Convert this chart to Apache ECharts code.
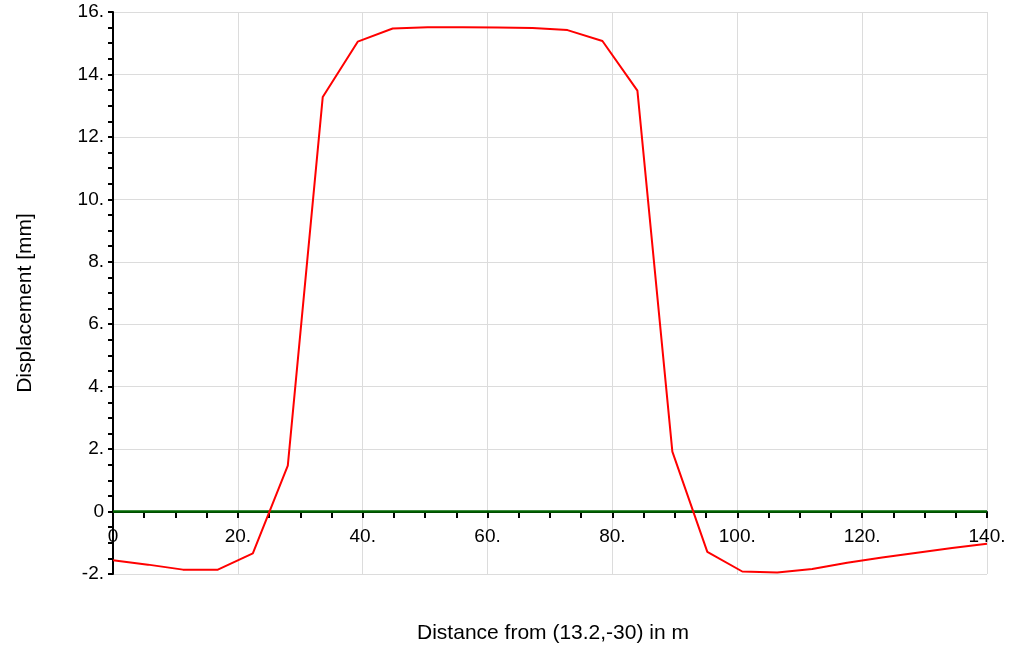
<!DOCTYPE html>
<html>
<head>
<meta charset="utf-8">
<script src="https://cdn.jsdelivr.net/npm/echarts@6/dist/echarts.min.js"></script>
<style>
html,body{margin:0;padding:0;background:#fff;}
#chart{width:1012px;height:647px;}
</style>
</head>
<body>
<div id="chart"></div>
<script>
var distance = [0,5.6,11.2,16.8,22.4,28,33.6,39.2,44.8,50.4,56,61.6,67.2,72.8,78.4,84,89.6,95.2,100.8,106.4,112,117.6,123.2,128.8,134.4,140];
var displacement = [-1.56,-1.70,-1.86,-1.86,-1.34,1.47,13.28,15.05,15.47,15.51,15.51,15.50,15.49,15.42,15.07,13.48,1.92,-1.29,-1.92,-1.95,-1.84,-1.64,-1.47,-1.32,-1.17,-1.03];
var baselineX = [0,140];
var baselineY = [0,0];
var xTitle = 'Distance from (13.2,-30) in m';
var yTitle = 'Displacement [mm]';

var FONT = '"Liberation Sans", Arial, Helvetica, sans-serif';
function fmt(v){ return v === 0 ? '0' : (v + '.'); }

var chart = echarts.init(document.getElementById('chart'), null, {renderer:'canvas'});
chart.setOption({
  animation:false,
  backgroundColor:'#fff',
  grid:{left:113,right:25,top:12,bottom:73,containLabel:false},
  xAxis:{
    type:'value',min:0,max:140,interval:20,position:'bottom',offset:-62,
    axisLine:{show:true,onZero:false,lineStyle:{color:'#000',width:2}},
    axisTick:{show:true,length:6,lineStyle:{color:'#000',width:2}},
    minorTick:{show:true,splitNumber:4,length:6,lineStyle:{color:'#000',width:2}},
    splitLine:{show:true,lineStyle:{color:'#dcdcdc',width:1}},
    axisLabel:{formatter:fmt,color:'#000',fontSize:19,fontFamily:FONT,margin:15,showMaxLabel:true,showMinLabel:true,hideOverlap:false}
  },
  yAxis:{
    type:'value',min:-2,max:16,interval:2,
    axisLine:{show:true,onZero:false,lineStyle:{color:'#000',width:2}},
    axisTick:{show:true,length:5,lineStyle:{color:'#000',width:2}},
    minorTick:{show:true,splitNumber:4,length:5,lineStyle:{color:'#000',width:2}},
    splitLine:{show:true,lineStyle:{color:'#dcdcdc',width:1}},
    axisLabel:{formatter:fmt,color:'#000',fontSize:19,fontFamily:FONT,margin:9,padding:[8,0,0,0],hideOverlap:false}
  },
  graphic:[
    {type:'text',position:[553,633],style:{text:xTitle,fontSize:21,fontFamily:FONT,fill:'#000',textAlign:'center',textVerticalAlign:'middle'}},
    {type:'text',position:[25,303],rotation:Math.PI/2,style:{text:yTitle,fontSize:21,fontFamily:FONT,fill:'#000',textAlign:'center',textVerticalAlign:'middle'}}
  ],
  series:[
    {type:'line',data:baselineX.map(function(x,i){return [x,baselineY[i]];}),symbol:'none',lineStyle:{color:'#006400',width:2.5},z:3},
    {type:'line',data:distance.map(function(x,i){return [x,displacement[i]];}),symbol:'none',lineStyle:{color:'#ff0000',width:2},z:4}
  ]
});
</script>
</body>
</html>
